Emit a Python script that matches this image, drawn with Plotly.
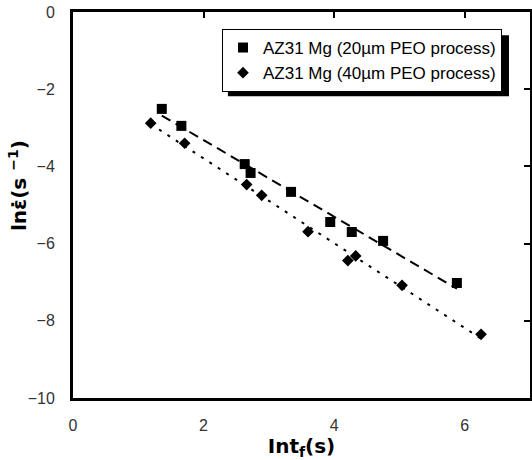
import numpy as np
import plotly.graph_objects as go

# Data (ln t_f, ln strain rate)
x20 = [1.36, 1.66, 2.63, 2.72, 3.34, 3.94, 4.27, 4.75, 5.88]
y20 = [-2.51, -2.95, -3.94, -4.17, -4.66, -5.44, -5.70, -5.93, -7.02]
x40 = [1.19, 1.71, 2.66, 2.89, 3.60, 4.21, 4.33, 5.04, 6.25]
y40 = [-2.88, -3.40, -4.47, -4.75, -5.69, -6.44, -6.32, -7.08, -8.35]
name20 = "AZ31 Mg (20µm PEO process)"
name40 = "AZ31 Mg (40µm PEO process)"
x_ticks = [0, 2, 4, 6]
y_ticks = [0, -2, -4, -6, -8, -10]


def fit_line(xs, ys):
    k, b = np.polyfit(xs, ys, 1)
    xl = np.array([min(xs), max(xs)])
    return xl, k * xl + b


fig = go.Figure()
xl, yl = fit_line(x20, y20)
fig.add_trace(go.Scatter(x=xl, y=yl, mode="lines", showlegend=False,
                         line=dict(color="black", width=2, dash="10px,6px")))
xl, yl = fit_line(x40, y40)
fig.add_trace(go.Scatter(x=xl, y=yl, mode="lines", showlegend=False,
                         line=dict(color="black", width=2, dash="3px,7px")))
fig.add_trace(go.Scatter(x=x20, y=y20, mode="markers", name=name20,
                         marker=dict(symbol="square", size=10, color="black")))
fig.add_trace(go.Scatter(x=x40, y=y40, mode="markers", name=name40,
                         marker=dict(symbol="diamond", size=9, color="black")))
# invisible trace for top/right tick axes
fig.add_trace(go.Scatter(x=[0], y=[0], xaxis="x2", yaxis="y2", mode="markers",
                         marker=dict(opacity=0), showlegend=False, hoverinfo="skip"))

tickfont = dict(family="Liberation Sans, Arial, sans-serif", size=16, color="#333")
titlefont = dict(family="DejaVu Sans, sans-serif", size=20, color="black", weight="bold")

fig.update_layout(
    width=532, height=460,
    margin=dict(l=73, r=2, t=12, b=62),
    plot_bgcolor="white", paper_bgcolor="white",
    showlegend=True,
    legend=dict(x=0.326, y=0.956, xanchor="left", yanchor="top",
                bgcolor="white", bordercolor="black", borderwidth=1,
                font=dict(family="Liberation Sans, Arial, sans-serif", size=17, color="black"),
                tracegroupgap=0),
    xaxis=dict(range=[0, 7], tickvals=x_ticks, ticks="", showgrid=False, zeroline=False,
               showline=True, linewidth=3, linecolor="black", tickfont=tickfont,
               ticklabelstandoff=11,
               title=dict(text="Int<sub>f</sub>(s)", font=titlefont, standoff=3)),
    yaxis=dict(range=[-10, 0], tickvals=y_ticks, ticktext=[str(v).replace("-", "−") for v in y_ticks],
               ticks="", showgrid=False, zeroline=False,
               showline=True, linewidth=3, linecolor="black", tickfont=tickfont,
               ticklabelstandoff=12),
    xaxis2=dict(range=[0, 7], tickvals=x_ticks, overlaying="x", side="top", anchor="y2",
                ticks="inside", ticklen=6, tickwidth=2, tickcolor="black",
                showticklabels=False, showgrid=False, zeroline=False,
                showline=True, linewidth=3, linecolor="black"),
    yaxis2=dict(range=[-10, 0], tickvals=y_ticks, overlaying="y", side="right", anchor="x2",
                ticks="inside", ticklen=6, tickwidth=2, tickcolor="black",
                showticklabels=False, showgrid=False, zeroline=False,
                showline=True, linewidth=3, linecolor="black"),
    shapes=[dict(type="rect", xref="paper", yref="paper",
                 x0=0.339, x1=0.954, y0=0.782, y1=0.940,
                 fillcolor="black", line=dict(width=0), layer="above")],
    annotations=[dict(text="lnε̇(s <sup>−1</sup>)", xref="paper", yref="paper",
                      x=0, y=0.549, xanchor="center", yanchor="middle",
                      xshift=-55, textangle=-90, showarrow=False, font=titlefont)],
)

fig.write_html("out.html")
